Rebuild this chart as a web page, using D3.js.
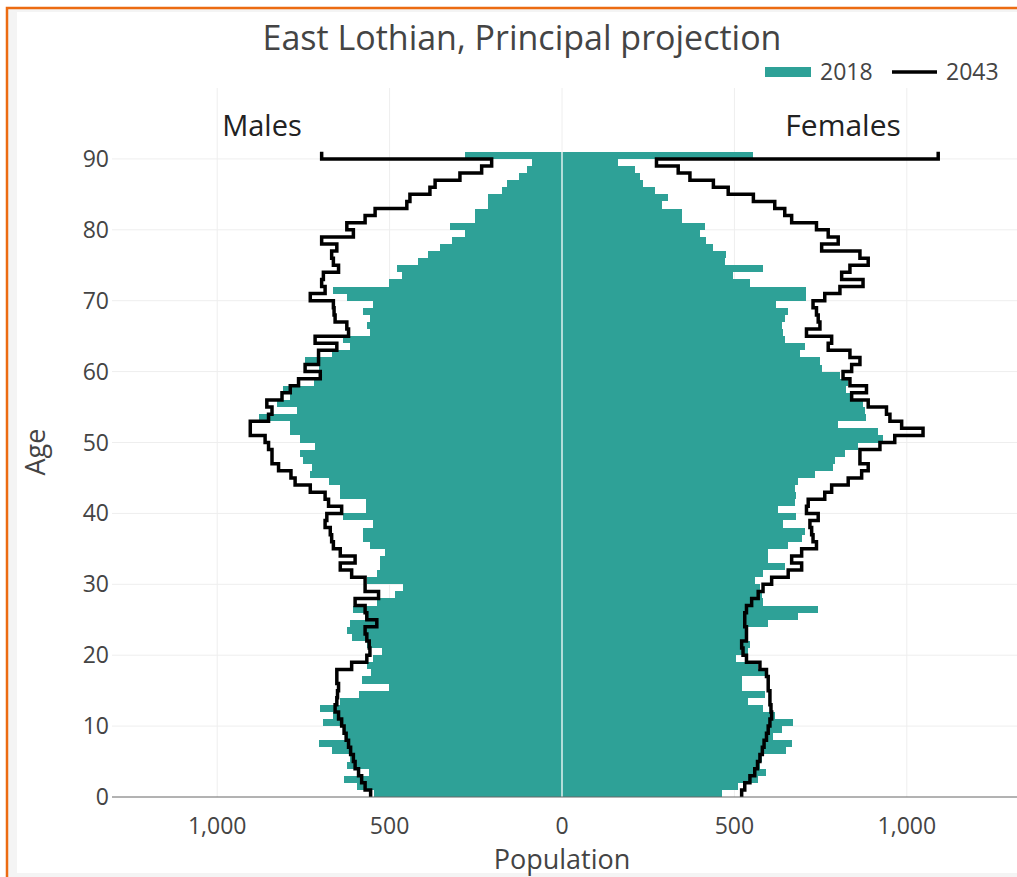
<!DOCTYPE html>
<html>
<head>
<meta charset="utf-8">
<script src="https://cdn.jsdelivr.net/npm/d3@7"></script>
<style>
  html, body { margin: 0; padding: 0; background: #fff; }
  svg { display: block; font-family: "Open Sans", "DejaVu Sans", sans-serif; }
</style>
</head>
<body>
<div id="chart"></div>
<script>
// ages 0..90 (90 = 90+)
const ages = d3.range(0, 91);

const male2018 = [545, 595, 631, 561, 624, 614, 668, 704, 624, 634,
  694, 663, 701, 643, 590, 503, 581, 555, 566, 547,
  523, 565, 609, 624, 614, 571, 605, 537, 484, 460,
  566, 537, 528, 528, 513, 557, 576, 576, 547, 634,
  569, 569, 643, 643, 677, 730, 725, 750, 759, 716,
  759, 788, 788, 880, 769, 827, 788, 808, 720, 701,
  706, 745, 668, 614, 634, 557, 566, 557, 576, 547,
  624, 663, 503, 465, 479, 417, 388, 354, 320, 281,
  325, 252, 252, 214, 214, 175, 160, 126, 102, 88, 281];

const female2018 = [463, 511, 569, 593, 574, 579, 651, 666, 612, 637,
  670, 617, 583, 540, 588, 521, 521, 588, 569, 506,
  538, 545, 538, 540, 598, 685, 743, 583, 579, 574,
  559, 583, 646, 598, 598, 656, 695, 704, 642, 680,
  627, 675, 680, 675, 685, 733, 786, 791, 820, 859,
  931, 917, 801, 883, 878, 873, 840, 825, 830, 806,
  753, 748, 690, 704, 646, 642, 637, 646, 656, 622,
  709, 709, 545, 497, 583, 472, 477, 439, 419, 400,
  414, 347, 347, 289, 308, 270, 236, 226, 212, 163, 555];

const male2043 = [555, 571, 581, 590, 600, 605, 613, 619, 626, 632,
  639, 648, 658, 653, 651, 648, 653, 653, 610, 566,
  557, 559, 566, 571, 537, 566, 571, 600, 532, 571,
  571, 610, 643, 600, 643, 663, 668, 672, 687, 682,
  639, 677, 687, 730, 774, 786, 822, 841, 841, 851,
  861, 904, 904, 851, 841, 856, 812, 788, 764, 701,
  745, 706, 706, 653, 716, 619, 624, 658, 661, 663,
  730, 687, 697, 692, 648, 663, 668, 653, 697, 605,
  624, 571, 542, 450, 441, 383, 368, 296, 233, 204, 697];

const female2043 = [521, 530, 545, 559, 567, 574, 581, 586, 593, 598,
  603, 608, 606, 603, 603, 598, 598, 593, 574, 535,
  525, 521, 535, 535, 530, 530, 535, 550, 569, 583,
  608, 656, 695, 666, 695, 738, 728, 724, 719, 743,
  709, 714, 762, 782, 830, 869, 888, 864, 864, 922,
  965, 1047, 985, 951, 941, 888, 840, 883, 835, 815,
  840, 864, 835, 772, 782, 709, 748, 743, 738, 728,
  762, 806, 873, 811, 835, 888, 864, 753, 801, 772,
  738, 666, 646, 617, 555, 482, 439, 371, 337, 274, 1091];

const xTicks = [-1000, -500, 0, 500, 1000];
const yTicks = [0, 10, 20, 30, 40, 50, 60, 70, 80, 90];
const legendLabels = ["2018", "2043"];

const W = 1017, H = 877;
const teal = "#2ea197";

const svg = d3.select("#chart").append("svg")
  .attr("width", W)
  .attr("height", H);

// page frame
svg.append("rect").attr("x", 0).attr("y", 0).attr("width", W).attr("height", H).attr("fill", "#fff");
svg.append("rect")
  .attr("x", 7).attr("y", 8).attr("width", W + 20).attr("height", H + 20)
  .attr("fill", "#f4f4f4").attr("stroke", "#ec6b12").attr("stroke-width", 2.5);
svg.append("rect")
  .attr("x", 17).attr("y", 12).attr("width", W).attr("height", 861)
  .attr("fill", "#fff");

const margin = { left: 112, right: 1012, top: 88, bottom: 797 };

const x = d3.scaleLinear().domain([-1305, 1305]).range([margin.left, margin.right]);
const y = d3.scaleLinear().domain([0, 100]).range([margin.bottom, margin.top]);

// grid
svg.append("g").selectAll("line").data(xTicks).join("line")
  .attr("x1", d => x(d)).attr("x2", d => x(d))
  .attr("y1", margin.top).attr("y2", margin.bottom)
  .attr("stroke", "#eee").attr("stroke-width", 1);
svg.append("g").selectAll("line").data(yTicks.slice(1)).join("line")
  .attr("x1", margin.left).attr("x2", W)
  .attr("y1", d => y(d)).attr("y2", d => y(d))
  .attr("stroke", "#eee").attr("stroke-width", 1);

// 2018 bars
const bars = svg.append("g");
bars.selectAll("rect.m").data(ages).join("rect").attr("class", "m")
  .attr("x", a => x(-male2018[a]))
  .attr("width", a => x(0) - x(-male2018[a]))
  .attr("y", a => y(a + 1))
  .attr("height", a => y(a) - y(a + 1))
  .attr("fill", teal)
  .attr("shape-rendering", "crispEdges");
bars.selectAll("rect.f").data(ages).join("rect").attr("class", "f")
  .attr("x", x(0))
  .attr("width", a => x(female2018[a]) - x(0))
  .attr("y", a => y(a + 1))
  .attr("height", a => y(a) - y(a + 1))
  .attr("fill", teal)
  .attr("shape-rendering", "crispEdges");

// zero line over bars
svg.append("line")
  .attr("x1", x(0)).attr("x2", x(0))
  .attr("y1", y(91)).attr("y2", y(0))
  .attr("stroke", "#fff").attr("stroke-opacity", 0.85).attr("stroke-width", 1.5);

// 2043 step outlines
const step = d3.line()
  .x(d => x(d[0]))
  .y(d => y(d[1]))
  .curve(d3.curveStepBefore);

const outline = (vals, sign) => {
  const pts = ages.map(a => [sign * vals[a], a]);
  pts.push([sign * vals[90], 91]);
  return pts;
};

[[male2043, -1], [female2043, 1]].forEach(([vals, sign]) => {
  svg.append("path")
    .datum(outline(vals, sign))
    .attr("fill", "none")
    .attr("stroke", "#000")
    .attr("stroke-width", 3.5)
    .attr("stroke-linejoin", "miter")
    .attr("d", step);
});

// x axis
svg.append("line")
  .attr("x1", margin.left).attr("x2", W)
  .attr("y1", y(0)).attr("y2", y(0))
  .attr("stroke", "#666").attr("stroke-width", 1);

svg.append("g").selectAll("text").data(xTicks).join("text")
  .attr("x", d => x(d))
  .attr("y", 834)
  .attr("text-anchor", "middle")
  .attr("fill", "#444")
  .style("font-size", "23px")
  .text(d => d3.format(",")(Math.abs(d)));

svg.append("g").selectAll("text").data(yTicks).join("text")
  .attr("x", 109)
  .attr("y", d => y(d) + 8)
  .attr("text-anchor", "end")
  .attr("fill", "#444")
  .style("font-size", "23px")
  .text(d => d);

// axis titles
svg.append("text")
  .attr("x", x(0)).attr("y", 869)
  .attr("text-anchor", "middle")
  .attr("fill", "#444")
  .style("font-size", "27px")
  .text("Population");

svg.append("text")
  .attr("transform", "translate(45,452) rotate(-90)")
  .attr("text-anchor", "middle")
  .attr("fill", "#444")
  .style("font-size", "27px")
  .text("Age");

// title
svg.append("text")
  .attr("x", 522).attr("y", 50)
  .attr("text-anchor", "middle")
  .attr("fill", "#444")
  .style("font-size", "34px")
  .text("East Lothian, Principal projection");

// side annotations
svg.append("text")
  .attr("x", x(-1000) + 5).attr("y", 136)
  .attr("text-anchor", "start")
  .attr("fill", "#222")
  .style("font-size", "29px")
  .text("Males");
svg.append("text")
  .attr("x", x(1000) - 6).attr("y", 136)
  .attr("text-anchor", "end")
  .attr("fill", "#222")
  .style("font-size", "30px")
  .text("Females");

// legend
const legend = svg.append("g");
legend.append("rect")
  .attr("x", 765).attr("y", 67).attr("width", 46).attr("height", 10)
  .attr("fill", teal);
legend.append("text")
  .attr("x", 820).attr("y", 80)
  .attr("fill", "#444")
  .style("font-size", "23px")
  .text(legendLabels[0]);
legend.append("line")
  .attr("x1", 892).attr("x2", 937).attr("y1", 72).attr("y2", 72)
  .attr("stroke", "#000").attr("stroke-width", 3.5);
legend.append("text")
  .attr("x", 946).attr("y", 80)
  .attr("fill", "#444")
  .style("font-size", "23px")
  .text(legendLabels[1]);
</script>
</body>
</html>
